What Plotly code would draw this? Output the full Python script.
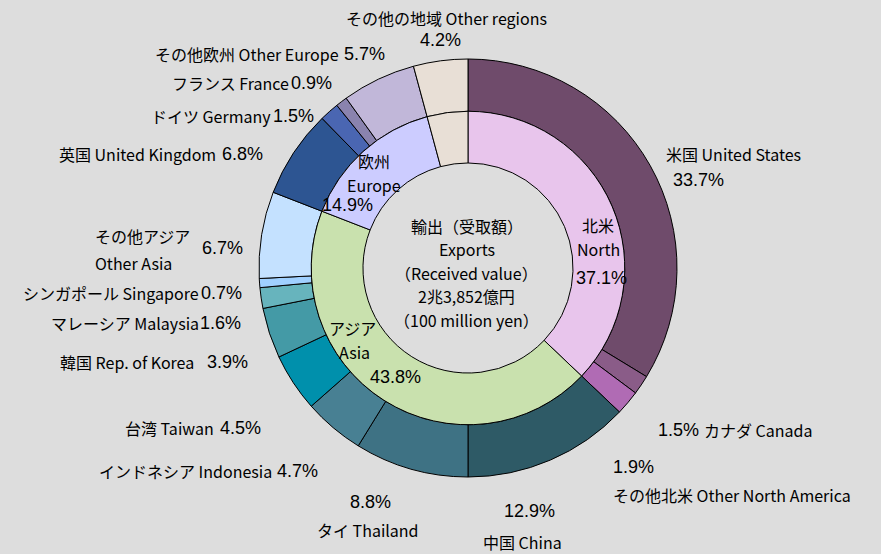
import plotly.graph_objects as go

# ---------------- data ----------------
outer_names = ["米国 United States", "カナダ Canada", "その他北米 Other North America",
               "中国 China", "タイ Thailand", "インドネシア Indonesia", "台湾 Taiwan",
               "韓国 Rep. of Korea", "マレーシア Malaysia", "シンガポール Singapore",
               "その他アジア Other Asia", "英国 United Kingdom", "ドイツ Germany",
               "フランス France", "その他欧州 Other Europe", "その他の地域 Other regions"]
outer_values = [33.7, 1.5, 1.9, 12.9, 8.8, 4.7, 4.5, 3.9, 1.6, 0.7, 6.7, 6.8, 1.5, 0.9, 5.7, 4.2]
outer_colors = ["#6F4B6B", "#8A5C88", "#B06BB4", "#2E5A66", "#3E7284", "#488093", "#0090AC",
                "#449AA6", "#67B4BD", "#A0D0FF", "#C4E1FF", "#2D5592", "#4A66B2", "#8A83AE",
                "#C1B7D9", "#E8DFD6"]

inner_names = ["北米 North", "アジア Asia", "欧州 Europe", "その他 Other"]
inner_values = [37.1, 43.8, 14.9, 4.2]
inner_colors = ["#E8C5EC", "#C9E1AE", "#CCCCFF", "#E8DFD6"]

center_lines = ["輸出（受取額）", "Exports", "（Received value）", "2兆3,852億円", "（100 million yen）"]

# ---------------- layout helpers ----------------
W, H = 881, 554
CX, CY = 468, 268
R_OUT = 209
R_IN = R_OUT * 0.75
BG = "#DDDDDD"
NAME_FONT = dict(family="Noto Sans CJK JP", size=16, color="#000000")
PCT_FONT = dict(family="Liberation Sans, Arial", size=18, color="#000000")


def dom(r):
    return dict(x=[(CX - r) / W, (CX + r) / W], y=[(H - CY - r) / H, (H - CY + r) / H])


def pos(x, y):
    return x / W, 1 - y / H


fig = go.Figure()
fig.add_trace(go.Pie(values=outer_values, labels=outer_names, marker=dict(colors=outer_colors,
                     line=dict(color="black", width=1)), sort=False, direction="clockwise",
                     rotation=0, hole=0.75, textinfo="none", domain=dom(R_OUT), showlegend=False))
fig.add_trace(go.Pie(values=inner_values, labels=inner_names, marker=dict(colors=inner_colors,
                     line=dict(color="black", width=1)), sort=False, direction="clockwise",
                     rotation=0, hole=0.67, textinfo="none", domain=dom(R_IN), showlegend=False))

ann = []


def add(text, x, y, anchor="left", font=NAME_FONT):
    px, py = pos(x, y)
    ann.append(dict(text=text, x=px, y=py, xref="paper", yref="paper", xanchor=anchor,
                    yanchor="middle", showarrow=False, font=font, borderpad=0))


def pct(v):
    return f"{v:.1f}%"


# outer labels (name, pct) positions in pixels
o = outer_values
add(outer_names[15], 447, 18, "center")
add(pct(o[15]), 440, 40, "center", PCT_FONT)
add(outer_names[14], 340, 54, "right")
add(pct(o[14]), 343, 54, "left", PCT_FONT)
add(outer_names[13], 290, 83, "right")
add(pct(o[13]), 290, 83, "left", PCT_FONT)
add(outer_names[12], 272, 116, "right")
add(pct(o[12]), 272, 116, "left", PCT_FONT)
add(outer_names[11], 217, 154, "right")
add(pct(o[11]), 221, 154, "left", PCT_FONT)
add(outer_names[10].split(" ")[0], 94, 236, "left")
add(" ".join(outer_names[10].split(" ")[1:]), 94, 263, "left")
add(pct(o[10]), 201, 248, "left", PCT_FONT)
add(outer_names[9], 200, 293, "right")
add(pct(o[9]), 200, 293, "left", PCT_FONT)
add(outer_names[8], 200, 323, "right")
add(pct(o[8]), 199, 323, "left", PCT_FONT)
add(outer_names[7], 195, 362, "right")
add(pct(o[7]), 206, 362, "left", PCT_FONT)
add(outer_names[6], 215, 428, "right")
add(pct(o[6]), 219, 428, "left", PCT_FONT)
add(outer_names[5], 273, 471, "right")
add(pct(o[5]), 276, 471, "left", PCT_FONT)
add(pct(o[4]), 370, 502, "center", PCT_FONT)
add(outer_names[4], 368, 530, "center")
add(pct(o[3]), 529, 511, "center", PCT_FONT)
add(outer_names[3], 522, 542, "center")
add(pct(o[2]), 612, 467, "left", PCT_FONT)
add(outer_names[2], 612, 495, "left")
add(pct(o[1]), 657, 430, "left", PCT_FONT)
add(outer_names[1], 703, 430, "left")
add(outer_names[0], 665, 154, "left")
add(pct(o[0]), 672, 180, "left", PCT_FONT)

# inner labels
iv = inner_values
add(inner_names[0].split(" ")[0], 598, 225, "center")
add(inner_names[0].split(" ")[1], 598, 249, "center")
add(pct(iv[0]), 601, 278, "center", PCT_FONT)
add(inner_names[2].split(" ")[0], 374, 161, "center")
add(inner_names[2].split(" ")[1], 374, 185, "center")
add(pct(iv[2]), 347, 205, "center", PCT_FONT)
add(inner_names[1].split(" ")[0], 352, 328, "center")
add(inner_names[1].split(" ")[1], 354, 352, "center")
add(pct(iv[1]), 395, 377, "center", PCT_FONT)

# center text
for i, t in enumerate(center_lines):
    add(t, 467, 226 + i * 23.5, "center")

fig.update_layout(width=W, height=H, margin=dict(l=0, r=0, t=0, b=0),
                  paper_bgcolor=BG, plot_bgcolor=BG, annotations=ann, showlegend=False)
fig.write_html("out.html", config={"displayModeBar": False},
               post_script="document.body.style.margin='0';document.body.style.background='#DDDDDD';")
